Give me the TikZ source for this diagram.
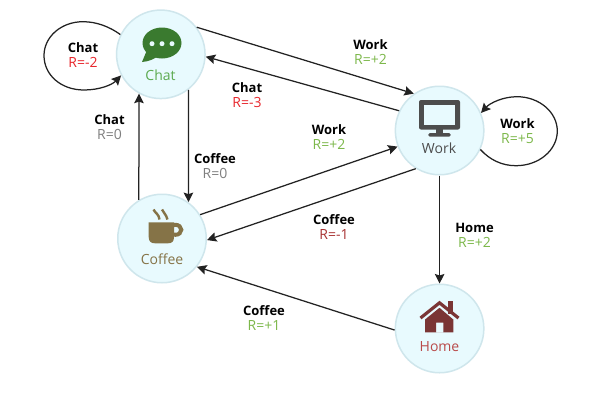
\documentclass[tikz,border=0pt]{standalone}
\usepackage{fontspec}
\setmainfont{Open Sans}
\definecolor{nodefill}{HTML}{E8FAFE}
\definecolor{nodeline}{HTML}{CFE6EC}
\definecolor{edgec}{HTML}{222222}
\definecolor{rred}{HTML}{E8262C}
\definecolor{rgreen}{HTML}{7DB84B}
\definecolor{rgrey}{HTML}{7F7F7F}
\definecolor{rdark}{HTML}{A83232}
\definecolor{chatc}{HTML}{3A7A2F}
\definecolor{chatt}{HTML}{5CAA50}
\definecolor{workc}{HTML}{4D4D4D}
\definecolor{coffc}{HTML}{857347}
\definecolor{homec}{HTML}{7A3535}
\definecolor{homet}{HTML}{B94A4A}
\usetikzlibrary{arrows.meta}
\tikzset{
  statec/.style={circle,draw=nodeline,fill=nodefill,line width=1.5pt,minimum size=88.5pt,inner sep=0pt},
  conn/.style={draw=edgec,line width=1.25pt,-{Stealth[length=9.5pt,width=9.5pt,inset=1.5pt]}},
  reward/.style={align=center,font=\fontsize{14}{15}\selectfont,inner sep=0pt},
  captxt/.style={font=\fontsize{14}{15}\selectfont,inner sep=0pt}
}
\newcommand{\rw}[3]{{\fontsize{13}{15}\selectfont\bfseries\color{black}#1}\\{\color{#2}#3}}
\begin{document}
\begin{tikzpicture}[x=1pt,y=-1pt]
\useasboundingbox (0,0) rectangle (600,400);
\fill[white] (0,0) rectangle (600,400);
\node[statec] (chat) at (160.8,54.3) {};
\node[statec] (work) at (439.6,130.5) {};
\node[statec] (coffee) at (162,238.5) {};
\node[statec] (home) at (439.6,328.5) {};
% self loops
\draw[conn] (chat.154) .. controls (110,27) and (97,21.7) .. (83,21.7)
  .. controls (61,21.7) and (44,37) .. (44,55.5)
  .. controls (44,75) and (61,90) .. (84,90)
  .. controls (99,90) and (112,85) .. (chat.208);
\draw[conn] (work.-25) .. controls (490,160) and (502,165.7) .. (516,165.7)
  .. controls (539,165.7) and (557.3,150) .. (557.3,131)
  .. controls (557.3,112) and (539,96.7) .. (517,96.7)
  .. controls (503,96.7) and (490,103) .. (work.23.5);
% edges
\draw[conn] (chat.37.8) -- (work.125.7);
\draw[conn] (work.154.1) -- (chat.-3);
\draw[conn] (chat.-52.6) -- (coffee.54.6);
\draw[conn] (coffee.121.1) -- (chat.-119.3);
\draw[conn] (coffee.32.3) -- (work.201);
\draw[conn] (work.238.5) -- (coffee.-2.8);
\draw[conn] (work.-90) -- (home.90);
\draw[conn] (home.182) -- (coffee.-39.2);
% captions
\node[captxt,text=chatt] (tchat) at (160.5,75.5) {Chat};
\node[captxt,text=workc] (twork) at (439,148.5) {Work};
\node[captxt,text=coffc] (tcoffee) at (162,259) {Coffee};
\node[captxt,text=homet] (thome) at (439.5,347) {Home};
% rewards
\node[reward] (l1) at (83,55) {\rw{Chat}{rred}{R=-2}};
\node[reward] (l2) at (370.5,52.5) {\rw{Work}{rgreen}{R=+2}};
\node[reward] (l3) at (247,95) {\rw{Chat}{rred}{R=-3}};
\node[reward] (l4) at (517.5,131.5) {\rw{Work}{rgreen}{R=+5}};
\node[reward] (l5) at (109.5,127.5) {\rw{Chat}{rgrey}{R=0}};
\node[reward] (l6) at (215,166.5) {\rw{Coffee}{rgrey}{R=0}};
\node[reward] (l7) at (329,137.5) {\rw{Work}{rgreen}{R=+2}};
\node[reward] (l8) at (334,227.5) {\rw{Coffee}{rdark}{R=-1}};
\node[reward] (l9) at (474.5,235.5) {\rw{Home}{rgreen}{R=+2}};
\node[reward] (l10) at (264,318.5) {\rw{Coffee}{rgreen}{R=+1}};
% chat icon
\fill[chatc] (162,43) ellipse [x radius=19.5,y radius=15.5];
\fill[chatc] (147,50) -- (142,62) .. controls (149,61.5) and (154,59) .. (158,56) -- cycle;
\foreach \x in {152,162,172} \fill[nodefill] (\x,43.7) circle (2.5);
% work icon
\fill[workc,rounded corners=2pt] (419,100) rectangle (460,129.5);
\fill[nodefill] (424,105) rectangle (455,124.5);
\fill[workc] (436,129) rectangle (443.3,134);
\fill[workc,rounded corners=1.5pt] (428.3,133) rectangle (450.7,136.7);
% coffee icon
\draw[coffc,line width=4pt] (175.5,229.8) ellipse [x radius=5.8,y radius=5];
\fill[coffc] (148.7,222.3) -- (174,222.3) -- (174,237) .. controls (174,241.5) and (172,243.3) .. (168,243.3) -- (155,243.3) .. controls (151,243.3) and (148.7,241.5) .. (148.7,237) -- cycle;
\draw[coffc,line width=2.4pt] (153.5,209.5) .. controls (155,213) and (159,214) .. (159.5,219.5);
\draw[coffc,line width=2.4pt] (162,209.5) .. controls (163.5,213) and (166,214) .. (167.5,219.5);
% home icon
\fill[homec] (448.3,301) rectangle (453.3,314);
\draw[homec,line width=3.2pt] (420.5,318) -- (439.5,302.8) -- (458.5,318);
\fill[homec,even odd rule] (425,319.5) -- (439.5,307.8) -- (453.3,319.5) -- (453.3,332.3) -- (425,332.3) -- cycle (436,322.7) rectangle (443.3,332.3);
\end{tikzpicture}
\end{document}
